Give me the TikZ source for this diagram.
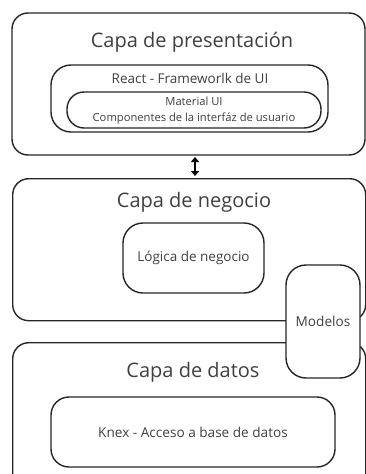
\documentclass[tikz,border=0pt]{standalone}
\usepackage{fontspec}
\setmainfont{Open Sans}
\usetikzlibrary{arrows.meta}
\begin{document}
\begin{tikzpicture}[x=1pt,y=-1pt,
  box/.style={draw=black!85,line width=1.4pt,fill=white},
  lbl/.style={inner sep=0pt,text=black!75}]
\useasboundingbox (0,0) rectangle (366,474);
\clip (0,0) rectangle (366,474);
% outer layers
\draw[box,rounded corners=16pt] (12,13) rectangle (365,155);
\node[lbl,font=\fontsize{20}{24}\selectfont] (tp) at (192,42) {Capa de presentación};
\draw[box,rounded corners=20pt] (51,65) rectangle (328,132);
\node[lbl,font=\fontsize{13.5}{16}\selectfont] (tr) at (190,78) {React - Frameworlk de UI};
\node[box,rounded corners=17pt,minimum width=254pt,minimum height=36pt,inner sep=0pt,text=black!75] (mui) at (194,110)
  {\fontsize{11.2}{16}\selectfont\begin{tabular}{@{}c@{}}Material UI\\Componentes de la interfáz de usuario\end{tabular}};

\node[box,rounded corners=16pt,minimum width=353pt,minimum height=142pt,inner sep=0pt,anchor=north west] (neg) at (12,178) {};
\node[lbl,font=\fontsize{20}{24}\selectfont] (tn) at (194,202) {Capa de negocio};
\node[box,rounded corners=20pt,minimum width=141pt,minimum height=70pt,inner sep=0pt,text=black!75,font=\fontsize{13.5}{16}\selectfont] (log) at (193.5,258) {Lógica de negocio};

\node[box,rounded corners=16pt,minimum width=353pt,minimum height=150pt,inner sep=0pt,anchor=north west] (dat) at (12,342) {};
\node[lbl,font=\fontsize{20}{24}\selectfont] (td) at (193,372) {Capa de datos};
\node[box,rounded corners=18pt,minimum width=284pt,minimum height=70pt,inner sep=0pt,text=black!75,font=\fontsize{13.6}{16}\selectfont] (knex) at (193,432) {Knex - Acceso a base de datos};

\node[box,rounded corners=20pt,minimum width=74pt,minimum height=113pt,inner sep=0pt,text=black!75,font=\fontsize{13.6}{16}\selectfont] (mod) at (323,321.5) {Modelos};

\coordinate (a1) at (195,157);
\coordinate (a2) at (195,176);
\draw[line width=2pt,{Triangle[length=5pt,width=8pt]}-{Triangle[length=5pt,width=8pt]}] (a1) -- (a2);
\end{tikzpicture}
\end{document}
